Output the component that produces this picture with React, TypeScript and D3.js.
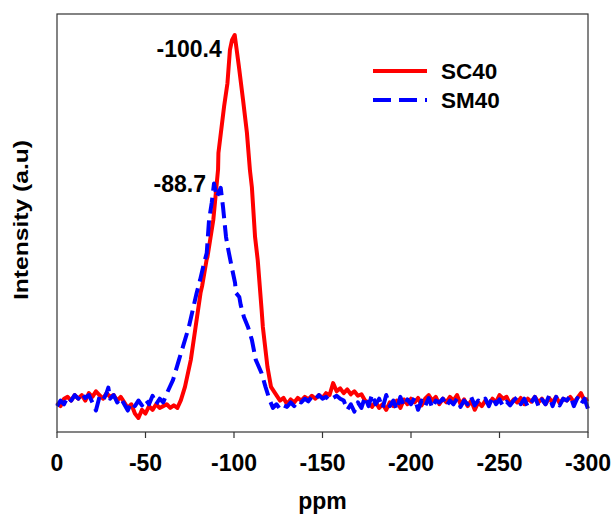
import React from "react";
import * as d3 from "d3";

const xTicks: number[] = [0, -50, -100, -150, -200, -250, -300];

const sc40Points: [number, number][] = [
  [0, 0], [-2, -0.01], [-4, 0.01], [-6, 0.015], [-8, 0.005], [-10, 0.02], [-12, 0.01], [-14, 0.02],
  [-16, 0.005], [-18, 0.025], [-20, 0.015], [-22, 0.03], [-24, 0.02], [-26, 0.01], [-28, 0.025],
  [-30, 0.015], [-32, 0.02], [-34, 0.005], [-36, 0.015], [-38, 0.0], [-40, -0.015], [-42, -0.005],
  [-44, -0.03], [-46, -0.042], [-48, -0.02], [-50, -0.03], [-52, -0.01], [-54, -0.02], [-56, -0.005],
  [-58, -0.015], [-60, -0.01], [-62, -0.005], [-64, -0.015], [-66, -0.008], [-68, -0.015],
  [-70, 0.006], [-72.3, 0.042], [-75.6, 0.115], [-78.3, 0.204], [-81.1, 0.296], [-82, 0.315],
  [-84.5, 0.385], [-85, 0.393], [-88.3, 0.493], [-91, 0.63], [-91.2, 0.674], [-94.4, 0.8],
  [-96.3, 0.863], [-97.7, 0.953], [-98.9, 0.98], [-100.4, 0.993], [-102.8, 0.907], [-105.1, 0.818],
  [-107.3, 0.729], [-109, 0.628], [-110.1, 0.582], [-111.9, 0.447], [-113.4, 0.385], [-115.6, 0.25],
  [-116.3, 0.204], [-118.9, 0.096], [-120.9, 0.042], [-123.2, 0.025],
  [-126, 0.005], [-128, 0.012], [-130, -0.005], [-132, 0.008], [-134, 0.0], [-136, 0.012],
  [-138, 0.005], [-140, 0.015], [-142, 0.008], [-144, 0.018], [-146, 0.01], [-148, 0.02], [-150, 0.012],
  [-152, 0.025], [-154, 0.02], [-156, 0.052], [-158, 0.03], [-160, 0.038], [-162, 0.025], [-164, 0.035],
  [-166, 0.022], [-168, 0.03], [-170, 0.018], [-172, 0.022], [-174, 0.005], [-176, 0.0], [-178, -0.012],
  [-180, 0.002], [-182, -0.015], [-184, -0.005], [-186, -0.02], [-188, 0.0], [-190, -0.01], [-192, 0.005],
  [-194, -0.015], [-196, 0.008], [-198, -0.005], [-200, 0.01], [-202, 0.0], [-204, 0.012], [-206, -0.008],
  [-208, 0.01], [-210, 0.02], [-212, 0.005], [-214, 0.015], [-216, -0.005], [-218, 0.01], [-220, 0.0],
  [-222, 0.015], [-224, 0.005], [-226, 0.02], [-228, -0.005], [-230, 0.008], [-232, -0.01], [-234, 0.005],
  [-236, -0.02], [-238, 0.0], [-240, -0.01], [-242, 0.005], [-244, -0.005], [-246, 0.01], [-248, 0.0],
  [-250, 0.02], [-252, 0.01], [-254, 0.015], [-256, -0.005], [-258, 0.008], [-260, 0.0], [-262, 0.012],
  [-264, -0.005], [-266, 0.01], [-268, 0.002], [-270, 0.015], [-272, 0.0], [-274, 0.01], [-276, -0.005],
  [-278, 0.012], [-280, 0.0], [-282, 0.015], [-284, -0.002], [-286, 0.01], [-288, 0.005], [-290, 0.015],
  [-292, 0.0], [-294, 0.012], [-296, 0.025], [-298, 0.005], [-300, 0.01],
];

const sm40Points: [number, number][] = [
  [0, -0.01], [-2, 0.005], [-4, -0.005], [-6, 0.015], [-8, 0.005], [-10, 0.02], [-12, 0.01], [-14, 0.025],
  [-16, 0.012], [-18, 0.02], [-20, 0.0], [-22, -0.022], [-24, 0.015], [-26, 0.005], [-28, 0.025],
  [-29, 0.04], [-30, 0.01], [-32, 0.02], [-34, 0.0], [-36, 0.012], [-38, -0.005], [-40, -0.022],
  [-42, 0.0], [-44, -0.01], [-46, 0.005], [-48, -0.008], [-50, 0.008], [-52, -0.005], [-54, 0.018],
  [-56, -0.005], [-58, 0.01], [-60, 0.0],
  [-62.1, 0.025], [-65.5, 0.06], [-68.9, 0.115], [-74.5, 0.204], [-78.9, 0.296], [-80.8, 0.33],
  [-83.1, 0.377], [-84.6, 0.404], [-85.9, 0.493], [-87.4, 0.539], [-88.7, 0.592], [-90.2, 0.555],
  [-92.5, 0.58], [-93.8, 0.528], [-95.5, 0.447], [-96.8, 0.412], [-98.7, 0.366], [-100.6, 0.323],
  [-101.1, 0.296], [-103, 0.285], [-103.8, 0.263], [-105.6, 0.231], [-107.9, 0.204], [-110.1, 0.169],
  [-112.3, 0.115], [-115.6, 0.079], [-117.8, 0.042], [-120.1, 0.007],
  [-122, -0.015], [-124, -0.005], [-126, -0.018], [-128, -0.008], [-130, -0.012], [-132, 0.0],
  [-134, -0.01], [-136, 0.005], [-138, 0.0], [-140, 0.01], [-142, 0.003], [-144, 0.015], [-146, 0.008],
  [-148, 0.02], [-150, 0.01], [-152, 0.015], [-154, 0.005], [-156, 0.012], [-158, 0.018], [-160, 0.01],
  [-162, 0.005], [-164, -0.02], [-166, -0.005], [-168, -0.025], [-170, 0.0], [-172, -0.015],
  [-174, 0.015], [-176, -0.01], [-178, 0.022], [-180, -0.005], [-182, 0.01], [-184, -0.015],
  [-186, 0.02], [-188, -0.01], [-190, 0.005], [-192, -0.02], [-194, 0.015], [-196, -0.01],
  [-198, 0.008], [-200, -0.005], [-202, 0.012], [-204, -0.02], [-206, 0.005], [-208, -0.01],
  [-210, 0.012], [-212, -0.015], [-214, 0.005], [-216, 0.0], [-218, 0.01], [-220, -0.01],
  [-222, 0.005], [-224, -0.005], [-226, 0.01], [-228, -0.012], [-230, 0.005], [-232, -0.005],
  [-234, 0.015], [-236, -0.008], [-238, 0.005], [-240, 0.0], [-242, 0.01], [-244, -0.01],
  [-246, 0.015], [-248, -0.005], [-250, 0.008], [-252, -0.01], [-254, 0.002], [-256, -0.008],
  [-258, 0.005], [-260, 0.015], [-262, -0.005], [-264, 0.01], [-266, -0.012], [-268, 0.0],
  [-270, 0.015], [-272, -0.01], [-274, 0.008], [-276, -0.005], [-278, 0.018], [-280, -0.01],
  [-282, 0.015], [-284, -0.008], [-286, 0.01], [-288, 0.005], [-290, 0.018], [-292, -0.01],
  [-294, 0.012], [-296, -0.005], [-298, 0.01], [-300, -0.018],
];

const seriesNames: string[] = ["SC40", "SM40"];
const peakLabels: { ppm: number; value: number; text: string }[] = [
  { ppm: -100.4, value: 0.993, text: "-100.4" },
  { ppm: -88.7, value: 0.592, text: "-88.7" },
];

const W = 616;
const H = 518;
const left = 57;
const right = 588;
const top = 14;
const bottom = 432;
const FONT = "'Liberation Sans', Arial, Helvetica, sans-serif";

export default function App() {
  const x = d3.scaleLinear().domain([0, -300]).range([left, right]);
  const y = d3.scaleLinear().domain([-0.08, 1.05]).range([bottom, top]);
  const line = d3
    .line<[number, number]>()
    .x((d) => x(d[0]))
    .y((d) => y(d[1]))
    .curve(d3.curveLinear);

  return (
    <svg
      width={W}
      height={H}
      style={{ position: "absolute", left: 0, top: 0, background: "#fff" }}
      fontFamily={FONT}
    >
      <rect x={0} y={0} width={W} height={H} fill="#fff" />
      <path d={line(sc40Points) || ""} fill="none" stroke="#ff0000" strokeWidth={4} strokeLinejoin="round" />
      <path
        d={line(sm40Points) || ""}
        fill="none"
        stroke="#0000ff"
        strokeWidth={4}
        strokeDasharray="16 7"
        strokeLinejoin="round"
      />
      <rect x={left} y={top} width={right - left} height={bottom - top} fill="none" stroke="#333" strokeWidth={1.2} />
      {xTicks.map((t) => (
        <g key={t}>
          <line x1={x(t)} x2={x(t)} y1={bottom} y2={bottom + 6} stroke="#333" strokeWidth={1.2} />
          <text x={x(t)} y={471} textAnchor="middle" fontSize={23} fontWeight="bold" fill="#000">
            {t}
          </text>
        </g>
      ))}
      <text x={(left + right) / 2} y={509} textAnchor="middle" fontSize={23} fontWeight="bold" fill="#000">
        ppm
      </text>
      <text
        transform={`translate(28,220) rotate(-90)`}
        textAnchor="middle"
        fontSize={20}
        fontWeight="bold"
        fill="#000"
        textLength={160}
        lengthAdjust="spacingAndGlyphs"
      >
        Intensity (a.u)
      </text>
      <text x={x(peakLabels[0].ppm) - 13} y={y(peakLabels[0].value) + 22} textAnchor="end" fontSize={23} fontWeight="bold">
        {peakLabels[0].text}
      </text>
      <text x={x(peakLabels[1].ppm) - 8} y={y(peakLabels[1].value) + 9} textAnchor="end" fontSize={23} fontWeight="bold">
        {peakLabels[1].text}
      </text>
      <g>
        <line x1={373} x2={427} y1={71} y2={71} stroke="#ff0000" strokeWidth={4} />
        <text x={441} y={79} fontSize={22.5} fontWeight="bold">{seriesNames[0]}</text>
        <line x1={373} x2={427} y1={100} y2={100} stroke="#0000ff" strokeWidth={4} strokeDasharray="18 8" />
        <text x={441} y={108} fontSize={22.5} fontWeight="bold">{seriesNames[1]}</text>
      </g>
    </svg>
  );
}
